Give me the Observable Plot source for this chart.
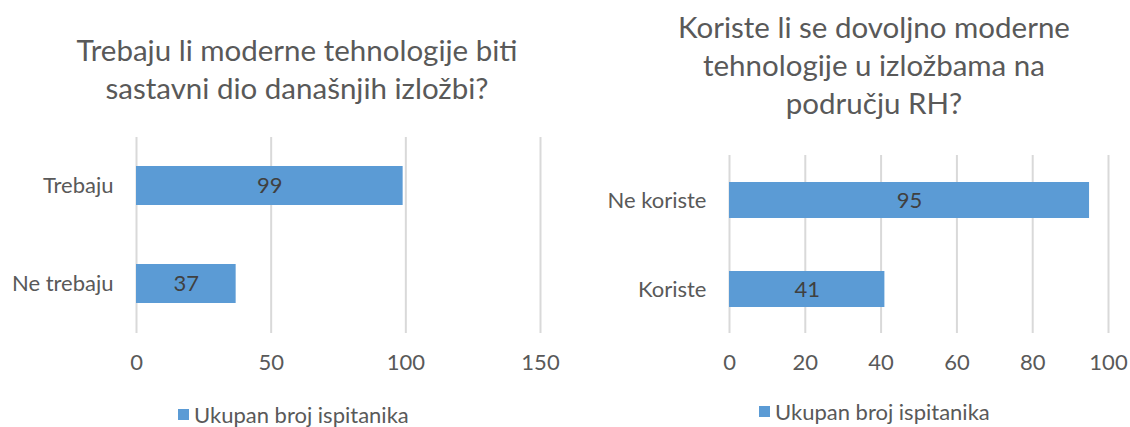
<!DOCTYPE html>
<html>
<head>
<meta charset="utf-8">
<script src="https://cdn.jsdelivr.net/npm/d3@7"></script>
<script src="https://cdn.jsdelivr.net/npm/@observablehq/plot@0.6"></script>
<style>
  html, body { margin: 0; padding: 0; background: #fff; }
  #wrap { position: relative; width: 1130px; height: 427px; overflow: hidden; font-family: Lato, "Open Sans", sans-serif; color: #595959; }
  .title { position: absolute; text-align: center; font-size: 29.5px; line-height: 38px; color: #595959; white-space: nowrap; }
  .legend { position: absolute; font-size: 22px; color: #595959; display: flex; align-items: center; white-space: nowrap; }
  .legend .sw { width: 11px; height: 11px; background: #5b9bd5; margin-right: 5px; }
  .chart { position: absolute; }
</style>
</head>
<body>
<div id="wrap">
  <div class="title" id="t1" style="left:47px; top:31px; width:500px;"></div>
  <div class="title" id="t2" style="left:624px; top:8px; width:500px;"></div>
  <div class="chart" id="c1" style="left:0px; top:120px;"></div>
  <div class="chart" id="c2" style="left:580px; top:120px;"></div>
  <div class="legend" id="l1" style="left:178px; top:401px;"></div>
  <div class="legend" id="l2" style="left:759px; top:398px;"></div>
</div>
<script>
// Data
const leftTitle = ["Trebaju li moderne tehnologije biti", "sastavni dio današnjih izložbi?"];
const leftCategories = ["Trebaju", "Ne trebaju"];
const leftValues = [99, 37];
const leftTicks = [0, 50, 100, 150];

const rightTitle = ["Koriste li se dovoljno moderne", "tehnologije u izložbama na", "području RH?"];
const rightCategories = ["Ne koriste", "Koriste"];
const rightValues = [95, 41];
const rightTicks = [0, 20, 40, 60, 80, 100];

const seriesName = "Ukupan broj ispitanika";
const barColor = "#5b9bd5";

document.getElementById("t1").innerHTML = leftTitle.join("<br>");
document.getElementById("t2").innerHTML = rightTitle.join("<br>");
for (const id of ["l1", "l2"]) {
  document.getElementById(id).innerHTML = `<span class="sw"></span><span>${seriesName}</span>`;
}

function makeChart(cats, vals, ticks, opts) {
  const data = cats.map((c, i) => ({cat: c, value: vals[i]}));
  return Plot.plot({
    width: opts.width,
    height: 265,
    marginLeft: opts.marginLeft,
    marginRight: opts.marginRight,
    marginTop: opts.marginTop,
    marginBottom: 52,
    style: {fontFamily: "Lato, 'Open Sans', sans-serif", fontSize: "22px", color: "#595959", background: "transparent", overflow: "visible"},
    x: {domain: [ticks[0], ticks[ticks.length - 1]], ticks: ticks},
    y: {domain: cats, paddingInner: 0.6, paddingOuter: 0.3},
    marks: [
      Plot.gridX(ticks, {stroke: "#d9d9d9", strokeOpacity: 1, strokeWidth: 2}),
      Plot.barX(data, {x: "value", y: "cat", fill: barColor}),
      Plot.text(data, {x: d => d.value / 2, y: "cat", text: d => String(d.value), fill: "#404040", fontSize: 22}),
      Plot.axisX(ticks, {tickSize: 0, tickPadding: 21, fill: "#595959", fontSize: 22, label: null}),
      Plot.axisY({tickSize: 0, tickPadding: 23, fill: "#595959", fontSize: 22, label: null})
    ]
  });
}

document.getElementById("c1").appendChild(
  makeChart(leftCategories, leftValues, leftTicks, {width: 560, marginLeft: 136, marginRight: 20, marginTop: 17})
);
document.getElementById("c2").appendChild(
  makeChart(rightCategories, rightValues, rightTicks, {width: 550, marginLeft: 149, marginRight: 22, marginTop: 35})
);
</script>
</body>
</html>
